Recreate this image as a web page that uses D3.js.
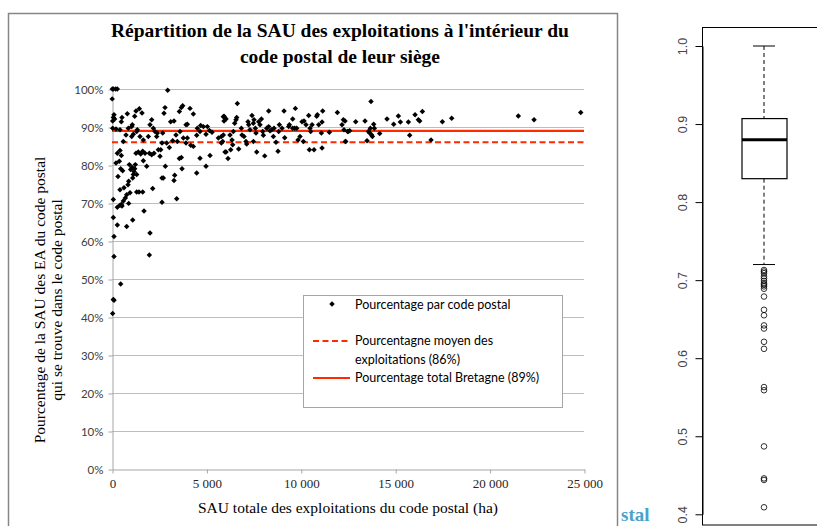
<!DOCTYPE html>
<html>
<head>
<meta charset="utf-8">
<script src="https://cdn.jsdelivr.net/npm/d3@7"></script>
<style>
  html, body { margin: 0; padding: 0; background: #fff; }
  svg { display: block; }
</style>
</head>
<body>
<svg id="chart" width="817" height="526"></svg>
<script>
// SAU totale du code postal (ha) et part de la SAU restant dans le code postal
const sauHa = [
  20, 71, 194, 283, 10, 2949, 106, 71, 141, 35, 212, 35, 530, 494, 812, 1201, 1272, 1448, 1589, 424,
  865, 1042, 1077, 1307, 1342, 600, 742, 1042, 1130, 1483, 1660, 1925, 2013, 2102, 2190, 2278, 2366, 2402, 2808, 2755,
  3108, 3285, 3567, 3744, 3673, 3921, 3991, 4132, 4309, 2649, 2684, 2896, 3038, 3214, 3391, 3461, 3603, 3779, 3921, 3991,
  4168, 4309, 4486, 4521, 4662, 4698, 4839, 4980, 5051, 5157, 5298, 5634, 5792, 5898, 5934, 5987, 283, 424, 494, 388,
  459, 565, 212, 318, 71, 283, 424, 494, 600, 706, 777, 636, 424, 848, 883, 1095, 1130, 1166, 989, 1060,
  1201, 1236, 1307, 918, 1272, 1395, 1519, 1660, 1625, 1748, 1837, 1978, 2102, 2225, 2455, 2543, 2578, 2826, 2720, 2649,
  2155, 1695, 2013, 1978, 2649, 3426, 3285, 3320, 3709, 3673, 3567, 4486, 4662, 4980, 5192, 1430, 1625, 1307, 954, 883,
  777, 283, 71, 106, 106, 459, 71, 106, 35, 1095, 530,
  6639, 5933, 5968, 6039, 5898, 5792, 5862, 6039, 6145, 6286, 6392, 6357, 6251, 6427, 6498, 6569, 6604, 6710, 6851, 6887,
  6993, 7098, 7134, 7204, 7240, 7310, 7416, 7487, 7487, 7522, 7593, 7628, 7664, 7770, 7840, 7911, 7981, 8017, 8087, 8193,
  8299, 8299, 8370, 8458, 8547, 8582, 8688, 8794, 8829, 8864, 9006, 9112, 9147, 9359, 9394, 9571, 9571, 9677, 9712, 9783,
  9853, 9959, 10065, 10136, 10171, 10277, 10419, 10489, 10525, 10596, 10701, 10454, 10842, 10878, 10949, 11090, 11125, 11160, 11125, 11513,
  11937, 12183, 12255, 12361, 12290, 12502,
  12342, 12377, 12483, 12589, 12907, 13402, 13508, 13578, 13649, 13684, 13719, 13755, 13790, 13861, 13896, 14179, 14567, 14920, 15168, 15274,
  15697, 15768, 16051, 16227, 16298, 16439, 16898, 17498, 17993,
  21522, 22354, 24827
];
const pctSau = [
  1.00, 1.00, 1.00, 1.00, 0.974, 0.997, 0.932, 0.925, 0.921, 0.916, 0.895, 0.897, 0.925, 0.914, 0.935, 0.928, 0.942, 0.948, 0.937, 0.893,
  0.897, 0.901, 0.906, 0.888, 0.893, 0.862, 0.879, 0.875, 0.881, 0.875, 0.866, 0.875, 0.906, 0.919, 0.897, 0.888, 0.875, 0.884, 0.951, 0.936,
  0.914, 0.916, 0.941, 0.956, 0.951, 0.906, 0.907, 0.949, 0.934, 0.858, 0.884, 0.858, 0.846, 0.864, 0.879, 0.862, 0.888, 0.871, 0.858, 0.871,
  0.852, 0.849, 0.878, 0.897, 0.888, 0.904, 0.901, 0.881, 0.901, 0.891, 0.886, 0.871, 0.875, 0.927, 0.916, 0.834, 0.831, 0.838, 0.825, 0.810,
  0.790, 0.785, 0.805, 0.770, 0.709, 0.689, 0.694, 0.696, 0.705, 0.713, 0.722, 0.740, 0.735, 0.748, 0.757, 0.766, 0.775, 0.783, 0.788, 0.794,
  0.790, 0.801, 0.775, 0.801, 0.831, 0.834, 0.829, 0.811, 0.836, 0.831, 0.797, 0.831, 0.827, 0.831, 0.840, 0.823, 0.840, 0.797, 0.766, 0.766,
  0.738, 0.679, 0.621, 0.563, 0.702, 0.711, 0.759, 0.773, 0.790, 0.820, 0.817, 0.779, 0.818, 0.797, 0.825, 0.729, 0.729, 0.729, 0.727, 0.699,
  0.638, 0.642, 0.662, 0.612, 0.559, 0.487, 0.446, 0.444, 0.409, 0.655, 0.692,
  0.962, 0.928, 0.925, 0.921, 0.879, 0.858, 0.862, 0.834, 0.817, 0.840, 0.853, 0.866, 0.879, 0.888, 0.910, 0.919, 0.925, 0.842, 0.897, 0.879,
  0.875, 0.862, 0.855, 0.914, 0.906, 0.893, 0.930, 0.910, 0.862, 0.919, 0.897, 0.884, 0.834, 0.914, 0.906, 0.921, 0.888, 0.878, 0.824, 0.897,
  0.942, 0.901, 0.890, 0.893, 0.875, 0.897, 0.860, 0.836, 0.888, 0.906, 0.897, 0.942, 0.872, 0.901, 0.906, 0.921, 0.897, 0.897, 0.949, 0.897,
  0.866, 0.875, 0.914, 0.862, 0.916, 0.906, 0.930, 0.897, 0.888, 0.906, 0.840, 0.840, 0.928, 0.932, 0.906, 0.884, 0.913, 0.942, 0.845, 0.886,
  0.938, 0.906, 0.919, 0.862, 0.893, 0.888,
  0.916, 0.862, 0.888, 0.890, 0.914, 0.916, 0.864, 0.888, 0.884, 0.897, 0.967, 0.879, 0.875, 0.907, 0.897, 0.883, 0.921, 0.907, 0.929, 0.913,
  0.913, 0.878, 0.932, 0.919, 0.916, 0.941, 0.866, 0.914, 0.923,
  0.929, 0.919, 0.938
];

// Reference levels
const meanFarms = 0.86;     // moyenne des exploitations
const totalBretagne = 0.89; // total Bretagne

// Axis ticks
const xTicks = [0, 5000, 10000, 15000, 20000, 25000];
const yTicks = [0, 0.1, 0.2, 0.3, 0.4, 0.5, 0.6, 0.7, 0.8, 0.9, 1.0];

// Boxplot summary (whisker low, Q1, median, Q3, whisker high)
const boxStats = [0.72, 0.83, 0.88, 0.907, 1.0];
const boxTicks = [0.4, 0.5, 0.6, 0.7, 0.8, 0.9, 1.0];

const legendLabels = [
  ["Pourcentage par code postal"],
  ["Pourcentagne moyen des", "exploitations (86%)"],
  ["Pourcentage total Bretagne (89%)"]
];

const svg = d3.select("#chart");
const RED = "#ff2a00";
const serif = "'Liberation Serif', 'Times New Roman', serif";
const sans = "Lato, 'Open Sans', sans-serif";

svg.append("rect").attr("width", 817).attr("height", 526).attr("fill", "#fff");

// small heading fragment beside the chart
svg.append("text")
  .attr("x", 621).attr("y", 521)
  .attr("font-family", "'Liberation Serif', serif")
  .attr("font-weight", "bold")
  .attr("font-size", 19)
  .attr("fill", "#4aa3c9")
  .text("stal");

// ---------- Left chart ----------
svg.append("rect")
  .attr("x", 8.5).attr("y", 13.5).attr("width", 609).attr("height", 540)
  .attr("fill", "#fff").attr("stroke", "#868686").attr("stroke-width", 1.5);

const x = d3.scaleLinear().domain([0, 25000]).range([112, 584]);
const y = d3.scaleLinear().domain([0, 1]).range([469, 89]);

const g = svg.append("g");

// gridlines
g.append("g").selectAll("line")
  .data(yTicks.filter(d => d > 0))
  .join("line")
  .attr("x1", x(0)).attr("x2", x(25000))
  .attr("y1", d => y(d) + 0.5).attr("y2", d => y(d) + 0.5)
  .attr("stroke", "#bdbdbd").attr("stroke-width", 1);

// y axis
const fmtPct = d => Math.round(d * 100) + "%";
const yAxis = g.append("g")
  .attr("transform", `translate(${x(0) + 0.5},0.5)`)
  .call(d3.axisLeft(y).tickValues(yTicks).tickFormat(fmtPct).tickSize(4).tickSizeOuter(0));
yAxis.select(".domain").attr("stroke", "#a6a6a6");
yAxis.selectAll(".tick line").attr("stroke", "#a6a6a6");
yAxis.selectAll(".tick text")
  .attr("x", -9)
  .attr("font-family", sans).attr("font-size", 11.5).attr("fill", "#404040");

// x axis
const loc = d3.formatLocale({ decimal: ",", thousands: " ", grouping: [3], currency: ["", " €"] });
const fmtX = loc.format(",d");
const xAxis = g.append("g")
  .attr("transform", `translate(0.5,${y(0) + 0.5})`)
  .call(d3.axisBottom(x).tickValues(xTicks).tickFormat(fmtX).tickSize(4).tickSizeOuter(0));
xAxis.select(".domain").attr("stroke", "#a6a6a6");
xAxis.selectAll(".tick line").attr("stroke", "#a6a6a6");
xAxis.selectAll(".tick text")
  .attr("y", 9)
  .attr("font-family", serif).attr("font-size", 13).attr("fill", "#262626");

// reference lines
g.append("line")
  .attr("x1", x(0)).attr("x2", x(25000))
  .attr("y1", y(meanFarms)).attr("y2", y(meanFarms))
  .attr("stroke", RED).attr("stroke-width", 2).attr("stroke-dasharray", "6,3.5");
g.append("line")
  .attr("x1", x(0)).attr("x2", x(25000))
  .attr("y1", y(totalBretagne)).attr("y2", y(totalBretagne))
  .attr("stroke", RED).attr("stroke-width", 2.2);

// points
const diamond = d3.symbol().type(d3.symbolSquare).size(15)();
g.append("g").selectAll("path")
  .data(sauHa.map((v, i) => [v, pctSau[i]]))
  .join("path")
  .attr("d", diamond)
  .attr("transform", d => `translate(${x(d[0])},${y(d[1])}) rotate(45)`)
  .attr("fill", "#000");

// title
const title = svg.append("text")
  .attr("text-anchor", "middle")
  .attr("font-family", serif).attr("font-weight", "bold").attr("font-size", 19.5)
  .attr("fill", "#000");
title.append("tspan").attr("x", 340).attr("y", 37).text("Répartition de la SAU des exploitations à l'intérieur du");
title.append("tspan").attr("x", 340).attr("y", 63).text("code postal de leur siège");

// axis titles
svg.append("text")
  .attr("x", 348).attr("y", 513)
  .attr("text-anchor", "middle")
  .attr("font-family", serif).attr("font-size", 15.5).attr("fill", "#000")
  .text("SAU totale des exploitations du code postal (ha)");

const yt = svg.append("text")
  .attr("transform", "rotate(-90)")
  .attr("text-anchor", "middle")
  .attr("font-family", serif).attr("font-size", 15.5).attr("fill", "#000");
yt.append("tspan").attr("x", -300).attr("y", 45).text("Pourcentage de la SAU des EA du code postal");
yt.append("tspan").attr("x", -300).attr("y", 62).text("qui se trouve dans le code postal");

// legend
const lg = svg.append("g");
lg.append("rect")
  .attr("x", 303.5).attr("y", 295.5).attr("width", 259).attr("height", 112)
  .attr("fill", "#fff").attr("stroke", "#a6a6a6").attr("stroke-width", 1);
lg.append("path").attr("d", diamond)
  .attr("transform", "translate(332,304) rotate(45)").attr("fill", "#000");
lg.append("line").attr("x1", 313).attr("x2", 350).attr("y1", 341).attr("y2", 341)
  .attr("stroke", RED).attr("stroke-width", 2).attr("stroke-dasharray", "6,3.5");
lg.append("line").attr("x1", 313).attr("x2", 350).attr("y1", 378).attr("y2", 378)
  .attr("stroke", RED).attr("stroke-width", 2.2);
const legY = [[308.5], [345, 364], [382]];
legendLabels.forEach((lines, i) => {
  lines.forEach((t, j) => {
    lg.append("text")
      .attr("x", 355).attr("y", legY[i][j])
      .attr("font-family", sans).attr("font-size", 12.5).attr("fill", "#000")
      .text(t);
  });
});

// ---------- Right boxplot ----------
const by = d3.scaleLinear().domain([0.4, 1.0]).range([514.3, 46]);
const bx = 764;
const bp = svg.append("g");

bp.append("rect")
  .attr("x", 702.5).attr("y", 27.5).attr("width", 130).attr("height", 497.5)
  .attr("fill", "none").attr("stroke", "#000").attr("stroke-width", 1);

const bAxis = bp.append("g")
  .attr("transform", "translate(702.5,0)")
  .call(d3.axisLeft(by).tickValues(boxTicks).tickFormat(d3.format(".1f")).tickSize(7).tickSizeOuter(0));
bAxis.select(".domain").attr("stroke", "#000");
bAxis.selectAll(".tick line").attr("stroke", "#000");
bAxis.selectAll(".tick text")
  .attr("transform", "rotate(-90)")
  .attr("x", 0).attr("y", -20)
  .attr("dy", "0.35em")
  .attr("text-anchor", "middle")
  .attr("font-family", "'Liberation Sans', Arial, sans-serif")
  .attr("font-size", 12.5).attr("fill", "#444");

const [wLo, q1, med, q3, wHi] = boxStats;
// whiskers
bp.append("line").attr("x1", bx).attr("x2", bx).attr("y1", by(wHi)).attr("y2", by(q3))
  .attr("stroke", "#000").attr("stroke-dasharray", "4,3");
bp.append("line").attr("x1", bx).attr("x2", bx).attr("y1", by(q1)).attr("y2", by(wLo))
  .attr("stroke", "#000").attr("stroke-dasharray", "4,3");
bp.append("line").attr("x1", 753).attr("x2", 775).attr("y1", by(wHi)).attr("y2", by(wHi)).attr("stroke", "#000");
bp.append("line").attr("x1", 753).attr("x2", 775).attr("y1", by(wLo)).attr("y2", by(wLo)).attr("stroke", "#000");
// box
bp.append("rect")
  .attr("x", 742).attr("y", by(q3)).attr("width", 45).attr("height", by(q1) - by(q3))
  .attr("fill", "#fff").attr("stroke", "#000").attr("stroke-width", 1.2);
bp.append("line").attr("x1", 742).attr("x2", 787).attr("y1", by(med)).attr("y2", by(med))
  .attr("stroke", "#000").attr("stroke-width", 3);
// outliers: values below the lower whisker
bp.append("g").selectAll("circle")
  .data(pctSau.filter(v => v < wLo))
  .join("circle")
  .attr("cx", bx).attr("cy", d => by(d)).attr("r", 2.8)
  .attr("fill", "none").attr("stroke", "#000").attr("stroke-width", 0.8);
</script>
</body>
</html>
